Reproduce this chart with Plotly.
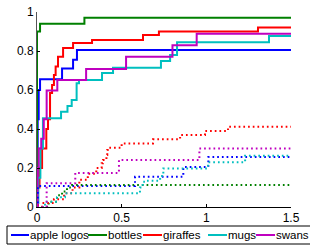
import plotly.graph_objects as go

# ---- data ----
names = ["apple logos", "bottles", "giraffes", "mugs", "swans"]
colors = ["#0000FF", "#008000", "#FF0000", "#00BFBF", "#BF00BF"]

# solid curves
apple_x = [0, 0.004, 0.01, 0.018, 0.148, 0.213, 0.236, 1.5]
apple_y = [0, 0.45, 0.6, 0.655, 0.71, 0.755, 0.805, 0.805]
bottles_x = [0, 0.0, 0.018, 0.28, 1.5]
bottles_y = [0, 0.9, 0.94, 0.97, 0.97]
giraffes_x = [0, 0.005, 0.015, 0.03, 0.055, 0.065, 0.077, 0.089, 0.1, 0.11, 0.124, 0.154, 0.213, 0.325, 0.626, 0.72, 1.305, 1.5]
giraffes_y = [0, 0.1, 0.2, 0.3, 0.4, 0.45, 0.585, 0.626, 0.677, 0.72, 0.77, 0.815, 0.841, 0.856, 0.882, 0.9, 0.92, 0.92]
mugs_x = [0, 0.008, 0.02, 0.035, 0.142, 0.18, 0.205, 0.234, 0.248, 0.384, 0.449, 0.732, 0.786, 0.827, 1.37, 1.5]
mugs_y = [0.02, 0.15, 0.3, 0.455, 0.489, 0.518, 0.549, 0.634, 0.651, 0.687, 0.714, 0.749, 0.779, 0.845, 0.877, 0.877]
swans_x = [0, 0.003, 0.01, 0.025, 0.04, 0.057, 0.12, 0.29, 0.526, 0.80, 0.943, 1.5]
swans_y = [0, 0.2, 0.3, 0.35, 0.45, 0.597, 0.651, 0.708, 0.771, 0.83, 0.889, 0.889]

# dotted curves
apple_dx = [0, 0.005, 0.579, 0.864, 1.012, 1.5]
apple_dy = [0, 0.108, 0.155, 0.205, 0.257, 0.257]
bottles_dx = [0, 0.069, 0.118, 0.148, 0.177, 0.207, 1.5]
bottles_dy = [0, 0.027, 0.06, 0.08, 0.1, 0.113, 0.113]
giraffes_dx = [0, 0.03, 0.1, 0.16, 0.21, 0.25, 0.3, 0.35, 0.382, 0.39, 0.41, 0.415, 0.427, 0.5, 0.685, 0.845, 0.992, 1.128, 1.5]
giraffes_dy = [0, 0.02, 0.04, 0.07, 0.1, 0.14, 0.17, 0.2, 0.224, 0.241, 0.267, 0.292, 0.304, 0.326, 0.347, 0.369, 0.39, 0.412, 0.412]
mugs_dx = [0, 0.047, 0.118, 0.165, 0.608, 0.624, 0.648, 0.727, 0.746, 1.01, 1.229, 1.5]
mugs_dy = [0, 0.027, 0.05, 0.07, 0.1, 0.13, 0.135, 0.159, 0.198, 0.229, 0.263, 0.263]
swans_dx = [0, 0.057, 0.226, 0.484, 0.959, 1.5]
swans_dy = [0, 0.122, 0.175, 0.241, 0.3, 0.3]

x_ticks = [0, 0.5, 1, 1.5]
x_tick_labels = ["0", "0.5", "1", "1.5"]
y_ticks = [0, 0.2, 0.4, 0.6, 0.8, 1]
y_tick_labels = ["0", "0.2", "0.4", "0.6", "0.8", "1"]

solid = [(apple_x, apple_y), (bottles_x, bottles_y), (giraffes_x, giraffes_y),
         (mugs_x, mugs_y), (swans_x, swans_y)]
dotted = [(apple_dx, apple_dy), (bottles_dx, bottles_dy), (giraffes_dx, giraffes_dy),
          (mugs_dx, mugs_dy), (swans_dx, swans_dy)]

fig = go.Figure()
for (xs, ys), c, n in zip(solid, colors, names):
    fig.add_trace(go.Scatter(x=xs, y=ys, mode="lines", line_shape="hv", name=n,
                             line=dict(color=c, width=2), showlegend=False))
for (xs, ys), c, n in zip(dotted, colors, names):
    fig.add_trace(go.Scatter(x=xs, y=ys, mode="lines", line_shape="hv", name=n,
                             line=dict(color=c, width=2, dash="1.7px,3px"), showlegend=False))

W, H = 310, 245
L, R, T, B = 37, 19, 12, 38
pw, ph = W - L - R, H - T - B

def px2paper(px, py):
    return (px - L) / pw, (H - B - py) / ph

shapes = []
annotations = []
# legend box
x0, y0 = px2paper(7, 226)
x1, y1 = px2paper(313, 244)
shapes.append(dict(type="rect", xref="paper", yref="paper", x0=x0, y0=y0, x1=x1, y1=y1,
                   line=dict(color="black", width=1), fillcolor="white"))
seg = [(11, 29), (88, 107), (143, 162), (208, 227), (256, 275)]
cy = 235
for (a, b), c, n in zip(seg, colors, names):
    xa, ya = px2paper(a, cy)
    xb, _ = px2paper(b, cy)
    shapes.append(dict(type="line", xref="paper", yref="paper", x0=xa, y0=ya, x1=xb, y1=ya,
                       line=dict(color=c, width=2)))
    xt, _ = px2paper(b, cy)
    annotations.append(dict(xref="paper", yref="paper", x=xt, y=ya, text=n, showarrow=False,
                            xanchor="left", yanchor="middle", borderpad=0,
                            font=dict(family="Liberation Sans, Arial", size=11.5, color="black")))

fig.update_layout(
    width=W, height=H, margin=dict(l=L, r=R, t=T, b=B, pad=0, autoexpand=False),
    paper_bgcolor="white", plot_bgcolor="white",
    showlegend=False,
    font=dict(family="Liberation Sans, Arial", size=12, color="black"),
    shapes=shapes, annotations=annotations,
    xaxis=dict(range=[0, 1.5], tickvals=x_ticks, ticktext=x_tick_labels, ticks="inside",
               ticklen=3, tickcolor="black", showline=True, linecolor="black", linewidth=1,
               showgrid=False, zeroline=False, mirror=False, automargin=False),
    yaxis=dict(range=[0, 1], tickvals=y_ticks, ticktext=y_tick_labels, ticks="inside",
               ticklen=3, tickcolor="black", showline=True, linecolor="#555555", linewidth=1,
               showgrid=False, zeroline=False, mirror=False, automargin=False),
)
fig.write_html("out.html", config={"displayModeBar": False},
               post_script="document.body.style.margin='0';document.body.style.overflow='hidden';")
